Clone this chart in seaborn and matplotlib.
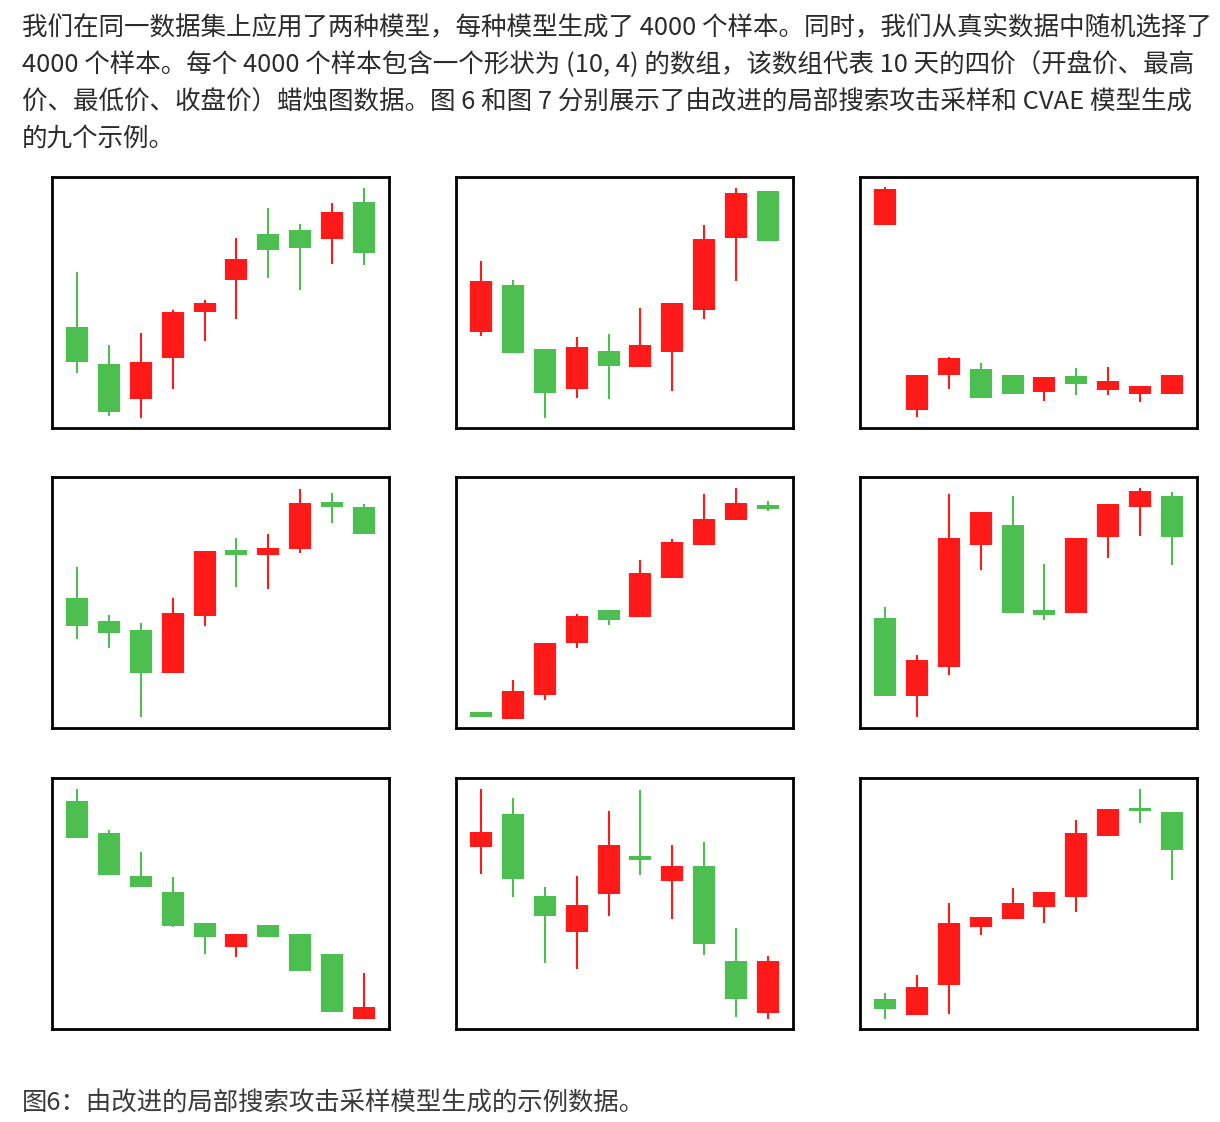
import matplotlib
matplotlib.use("Agg")
import matplotlib.pyplot as plt
import numpy as np
import pandas as pd
import seaborn as sns

# ---------------- data (price units) ----------------
days = list(range(10))

p1_open = [304, 191, 86, 210, 349, 444, 581, 594, 565, 678]
p1_high = [467, 250, 285, 354, 384, 570, 659, 612, 675, 720]
p1_low = [165, 35, 31, 116, 261, 328, 450, 414, 492, 488]
p1_close = [199, 47, 199, 348, 374, 507, 534, 540, 647, 523]

p2_open = [288, 427, 236, 117, 231, 182, 229, 354, 570, 709]
p2_high = [499, 444, 236, 272, 283, 359, 376, 607, 720, 709]
p2_low = [277, 226, 31, 89, 86, 182, 110, 327, 439, 560]
p2_close = [441, 226, 106, 242, 187, 249, 374, 566, 704, 560]

p3_open = [609, 55, 158, 178, 158, 109, 157, 114, 101, 102]
p3_high = [722, 159, 212, 195, 158, 154, 181, 182, 127, 160]
p3_low = [609, 32, 117, 90, 102, 82, 99, 99, 77, 102]
p3_close = [717, 159, 209, 90, 102, 154, 132, 141, 127, 160]

p4_open = [389, 320, 295, 164, 337, 533, 518, 537, 677, 661]
p4_high = [483, 340, 315, 388, 530, 570, 582, 716, 705, 670]
p4_low = [266, 240, 32, 164, 307, 422, 416, 525, 613, 581]
p4_close = [306, 286, 165, 346, 530, 518, 539, 673, 663, 581]

p5_open = [48, 28, 98, 256, 353, 332, 449, 549, 624, 667]
p5_high = [48, 145, 256, 342, 353, 502, 567, 701, 718, 681]
p5_low = [34, 28, 83, 241, 309, 332, 449, 549, 624, 651]
p5_close = [34, 112, 256, 337, 324, 463, 557, 627, 674, 655]

p6_open = [329, 95, 183, 548, 607, 354, 346, 573, 661, 694]
p6_high = [363, 220, 701, 646, 695, 490, 568, 670, 718, 707]
p6_low = [95, 32, 160, 473, 346, 323, 346, 510, 574, 487]
p6_close = [95, 204, 568, 646, 346, 338, 568, 670, 710, 573]

p7_open = [684, 586, 457, 409, 317, 247, 311, 286, 226, 29]
p7_high = [718, 595, 529, 455, 317, 285, 311, 286, 226, 169]
p7_low = [571, 462, 424, 305, 226, 216, 275, 173, 50, 29]
p7_close = [571, 462, 424, 309, 275, 285, 275, 173, 50, 65]

p8_open = [544, 644, 398, 290, 404, 519, 442, 489, 205, 48]
p8_high = [718, 693, 426, 457, 653, 716, 550, 559, 303, 218]
p8_low = [465, 395, 197, 179, 338, 462, 330, 222, 37, 31]
p8_close = [589, 450, 340, 371, 551, 505, 489, 255, 91, 205]

p9_open = [90, 43, 132, 306, 329, 365, 395, 578, 662, 650]
p9_high = [107, 163, 378, 335, 423, 409, 625, 660, 718, 650]
p9_low = [30, 43, 45, 283, 329, 319, 351, 578, 618, 445]
p9_close = [59, 125, 317, 335, 378, 409, 588, 660, 652, 536]

panels = [
    (p1_open, p1_high, p1_low, p1_close),
    (p2_open, p2_high, p2_low, p2_close),
    (p3_open, p3_high, p3_low, p3_close),
    (p4_open, p4_high, p4_low, p4_close),
    (p5_open, p5_high, p5_low, p5_close),
    (p6_open, p6_high, p6_low, p6_close),
    (p7_open, p7_high, p7_low, p7_close),
    (p8_open, p8_high, p8_low, p8_close),
    (p9_open, p9_high, p9_low, p9_close),
]

paragraph_lines = [
    "我们在同一数据集上应用了两种模型，每种模型生成了 4000 个样本。同时，我们从真实数据中随机选择了",
    "4000 个样本。每个 4000 个样本包含一个形状为 (10, 4) 的数组，该数组代表 10 天的四价（开盘价、最高",
    "价、最低价、收盘价）蜡烛图数据。图 6 和图 7 分别展示了由改进的局部搜索攻击采样和 CVAE 模型生成",
    "的九个示例。",
]
caption = "图6：由改进的局部搜索攻击采样模型生成的示例数据。"

# ---------------- style ----------------
sns.set_theme(style="white")
plt.rcParams["font.family"] = ["Noto Sans CJK SC", "DejaVu Sans"]

RED = "#ff1a1a"
GREEN = "#4dbf50"
PAL = {"up": RED, "down": GREEN}

W, H = 1220, 1122
fig = plt.figure(figsize=(W / 100, H / 100), dpi=100)
fig.patch.set_facecolor("white")

col_left = [52, 456, 860]
row_top = [177, 477, 778]
ax_w, ax_h = 337, 251


def frames(o, h, l, c):
    wick_rows, body_rows = [], []
    for i in days:
        d = "up" if c[i] >= o[i] else "down"
        wick_rows += [(i, l[i], i, d), (i, h[i], i, d)]
        body_rows += [(i, o[i], i, d), (i, c[i], i, d)]
    cols = ["day", "price", "candle", "dir"]
    return pd.DataFrame(wick_rows, columns=cols), pd.DataFrame(body_rows, columns=cols)


for k, (o, h, l, c) in enumerate(panels):
    r, cidx = divmod(k, 3)
    left = col_left[cidx] / W
    bottom = 1 - (row_top[r] + ax_h) / H
    ax = fig.add_axes([left, bottom, ax_w / W, ax_h / H])
    wicks, bodies = frames(o, h, l, c)
    sns.lineplot(data=wicks, x="day", y="price", units="candle", estimator=None,
                 hue="dir", palette=PAL, hue_order=["up", "down"], sort=False,
                 linewidth=1.5, solid_capstyle="butt", legend=False, ax=ax)
    sns.lineplot(data=bodies, x="day", y="price", units="candle", estimator=None,
                 hue="dir", palette=PAL, hue_order=["up", "down"], sort=False,
                 linewidth=16, solid_capstyle="butt", legend=False, ax=ax)
    ax.set_xlim(-0.8, 9.8)
    ax.set_ylim(0, 752)
    ax.set_xticks([])
    ax.set_yticks([])
    ax.set_xlabel("")
    ax.set_ylabel("")
    ax.set_facecolor("white")
    for sp in ax.spines.values():
        sp.set_visible(True)
        sp.set_color("black")
        sp.set_linewidth(2.0)

# ---------------- text ----------------
line_y = [28, 65, 102, 139]
for txt, y in zip(paragraph_lines, line_y):
    fig.text(22 / W, 1 - y / H, txt, ha="left", va="center",
             fontsize=18.4, color="#2b2b2b")

fig.text(22 / W, 1 - 1104 / H, caption, ha="left", va="center",
         fontsize=18.3, color="#3a3a3a")

fig.savefig("out.png", dpi=100, facecolor="white")
